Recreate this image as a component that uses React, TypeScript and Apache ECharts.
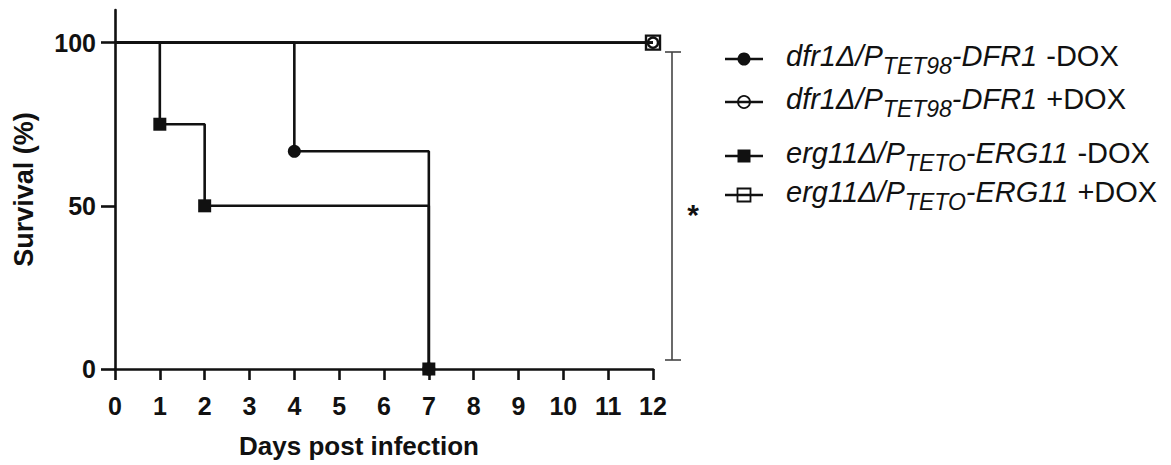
import React, { useEffect, useRef } from "react";
import * as echarts from "echarts";

const dayTicks = [0, 1, 2, 3, 4, 5, 6, 7, 8, 9, 10, 11, 12];
const yTicks = [0, 50, 100];

const dfrMinusDays = [0, 4, 7];
const dfrMinusSurv = [100, 66.7, 0];
const dfrPlusDays = [0, 12];
const dfrPlusSurv = [100, 100];
const ergMinusDays = [0, 1, 2, 7];
const ergMinusSurv = [100, 75, 50, 0];
const ergPlusDays = [0, 12];
const ergPlusSurv = [100, 100];

const legendItems = [
  { gene: "dfr1Δ/P", sub: "TET98", tail: "-DFR1", dox: "-DOX", symbol: "circle", filled: true },
  { gene: "dfr1Δ/P", sub: "TET98", tail: "-DFR1", dox: "+DOX", symbol: "circle", filled: false },
  { gene: "erg11Δ/P", sub: "TETO", tail: "-ERG11", dox: "-DOX", symbol: "rect", filled: true },
  { gene: "erg11Δ/P", sub: "TETO", tail: "-ERG11", dox: "+DOX", symbol: "rect", filled: false },
];

const FONT = "'Liberation Sans', Arial, Helvetica, sans-serif";

function toData(xs: number[], ys: number[]) {
  return xs.map((x, i) =>
    i === 0 ? { value: [x, ys[i]], symbol: "none" } : { value: [x, ys[i]] }
  );
}

let measureCtx: CanvasRenderingContext2D | null = null;
function measure(text: string, font: string) {
  if (!measureCtx) measureCtx = document.createElement("canvas").getContext("2d");
  if (!measureCtx) return text.length * 14;
  measureCtx.font = font;
  return measureCtx.measureText(text).width;
}

export default function App() {
  const ref = useRef<HTMLDivElement>(null);
  useEffect(() => {
    if (!ref.current) return;
    const chart = echarts.init(ref.current, undefined, { renderer: "svg" });

    const mkSeries = (name: string, xs: number[], ys: number[], symbol: string, filled: boolean, size: number) => ({
      name,
      type: "line",
      step: "end",
      data: toData(xs, ys),
      symbol,
      symbolSize: size,
      showAllSymbol: true,
      lineStyle: { color: "#111", width: 2.6 },
      itemStyle: filled
        ? { color: "#111", borderColor: "#111", borderWidth: 0 }
        : { color: "rgba(255,255,255,0)", borderColor: "#111", borderWidth: 2.4 },
      z: 3,
    });

    const mainSize = 29;
    const subSize = 23;
    const mainItalic = `italic ${mainSize}px 'Liberation Sans'`;
    const subItalic = `italic ${subSize}px 'Liberation Sans'`;
    const mainNormal = `${mainSize}px 'Liberation Sans'`;

    const lineYs = [59, 102, 156, 195];
    const legendGraphics: any[] = [];
    legendItems.forEach((it, i) => {
      const y = lineYs[i];
      const ty = y - 3;
      legendGraphics.push({
        type: "line",
        shape: { x1: 725, y1: y, x2: 763, y2: y },
        style: { stroke: "#111", lineWidth: 2.6 },
      });
      if (it.symbol === "circle") {
        legendGraphics.push({
          type: "circle",
          shape: { cx: 744, cy: y, r: it.filled ? 6.5 : 6 },
          style: it.filled ? { fill: "#111" } : { fill: "none", stroke: "#111", lineWidth: 1.8 },
          z: 10,
        });
      } else {
        legendGraphics.push({
          type: "rect",
          shape: { x: 737.5, y: y - 6.5, width: 13, height: 13 },
          style: it.filled ? { fill: "#111" } : { fill: "none", stroke: "#111", lineWidth: 1.8 },
          z: 10,
        });
      }
      let cx = 785;
      const segs = [
        { t: it.gene, font: mainItalic, size: mainSize, italic: true, dy: 0, gap: 1 },
        { t: it.sub, font: subItalic, size: subSize, italic: true, dy: 10, gap: 0 },
        { t: it.tail, font: mainItalic, size: mainSize, italic: true, dy: 0, gap: 0 },
        { t: it.dox, font: mainNormal, size: mainSize, italic: false, dy: 0, gap: 9 },
      ];
      segs.forEach((s) => {
        cx += s.gap;
        legendGraphics.push({
          type: "text",
          x: cx,
          y: ty + s.dy,
          z: 10,
          style: {
            text: s.t,
            fontSize: s.size,
            fontStyle: s.italic ? "italic" : "normal",
            fontFamily: FONT,
            fill: "#111",
            align: "left",
            verticalAlign: "middle",
          },
        });
        cx += measure(s.t, s.font);
      });
    });

    const option: any = {
      animation: false,
      backgroundColor: "#fff",
      grid: { left: 115, right: 518, top: 10, bottom: 96, containLabel: false, outerBoundsMode: "none" },
      xAxis: {
        type: "value",
        min: 0,
        max: 12,
        interval: 1,
        name: "Days post infection",
        nameLocation: "middle",
        nameGap: 64,
        nameTextStyle: { fontSize: 26, fontWeight: "bold", fontFamily: FONT, color: "#111", padding: [0, 50, 0, 0] },
        axisLine: { onZero: false, lineStyle: { color: "#111", width: 2.6 } },
        axisTick: { show: true, length: 11, lineStyle: { color: "#111", width: 2.6 } },
        axisLabel: { fontSize: 25, fontWeight: "bold", fontFamily: FONT, color: "#111", margin: 24, formatter: (v: number) => (dayTicks.includes(v) ? String(v) : "") },
        splitLine: { show: false },
      },
      yAxis: {
        type: "value",
        min: 0,
        max: 110,
        interval: 50,
        name: "Survival (%)",
        nameLocation: "middle",
        nameGap: 78,
        nameRotate: 90,
        nameTextStyle: { fontSize: 27, fontWeight: "bold", fontFamily: FONT, color: "#111" },
        axisLine: { show: true, onZero: false, lineStyle: { color: "#111", width: 2.6 } },
        axisTick: { show: true, length: 14, lineStyle: { color: "#111", width: 2.6 }, customValues: yTicks },
        axisLabel: { fontSize: 25, fontWeight: "bold", fontFamily: FONT, color: "#111", margin: 19, customValues: yTicks },
        splitLine: { show: false },
      },
      series: [
        mkSeries("dfr1 +DOX", dfrPlusDays, dfrPlusSurv, "circle", false, 10),
        mkSeries("erg11 +DOX", ergPlusDays, ergPlusSurv, "rect", false, 14),
        mkSeries("dfr1 -DOX", dfrMinusDays, dfrMinusSurv, "circle", true, 13),
        mkSeries("erg11 -DOX", ergMinusDays, ergMinusSurv, "rect", true, 13),
      ],
      graphic: [
        { type: "line", shape: { x1: 672, y1: 52, x2: 672, y2: 360 }, style: { stroke: "#444", lineWidth: 1.6 } },
        { type: "line", shape: { x1: 665, y1: 52, x2: 681, y2: 52 }, style: { stroke: "#444", lineWidth: 1.6 } },
        { type: "line", shape: { x1: 665, y1: 360, x2: 681, y2: 360 }, style: { stroke: "#444", lineWidth: 1.6 } },
        { type: "text", x: 693, y: 214, style: { text: "*", fontSize: 30, fontWeight: "bold", fontFamily: FONT, fill: "#111", align: "center", verticalAlign: "middle" } },
        ...legendGraphics,
      ],
    };
    chart.setOption(option);
    return () => chart.dispose();
  }, []);
  return <div ref={ref} style={{ width: 1171, height: 465, position: "absolute", left: 0, top: 0 }} />;
}
